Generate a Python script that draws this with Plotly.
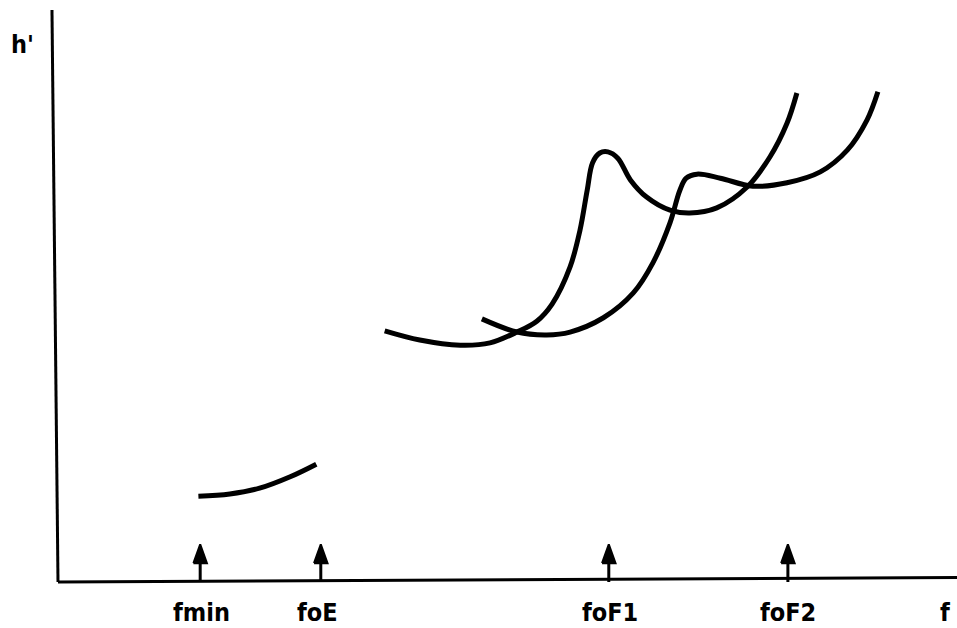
import plotly.graph_objects as go

# E-layer trace (frequency f, virtual height h')
e_f = [15.6, 19.1, 22.4, 25.8, 28.7]
e_h = [15.0, 15.4, 16.4, 18.4, 20.6]

# F-layer ordinary trace
o_f = [36.3, 40.2, 44.7, 48.0, 51.0, 53.2, 54.9, 56.9, 58.0, 58.8, 59.4, 60.2, 61.1,
       62.2, 63.6, 65.4, 68.0, 70.2, 73.2, 76.6, 79.1, 81.0, 82.1]
o_h = [43.9, 42.3, 41.4, 41.8, 43.7, 45.6, 48.6, 55.1, 61.5, 68.5, 73.3, 75.0, 75.2,
       74.1, 70.3, 67.3, 65.0, 64.5, 65.4, 69.1, 74.3, 80.2, 85.5]

# F-layer extraordinary trace
x_f = [47.1, 51.0, 54.3, 56.9, 60.6, 63.9, 66.1, 68.0, 69.1, 69.8, 71.0, 73.6,
       77.2, 81.0, 84.7, 87.7, 89.9, 91.1]
x_h = [46.0, 43.7, 43.2, 43.7, 46.2, 50.5, 55.8, 62.8, 68.5, 70.6, 71.3, 70.6,
       69.2, 69.8, 71.7, 75.5, 80.8, 85.7]

# critical frequency markers
crit_labels = ["fmin", "foE", "foF1", "foF2"]
crit_f = [15.8, 29.2, 61.2, 81.1]
label_f = [16.0, 28.8, 61.3, 81.1]
head_base, head_tip, head_half = 3.3, 6.6, 0.75

fig = go.Figure()
fig.add_trace(go.Scatter(x=e_f, y=e_h, mode="lines", line=dict(color="black", width=5, shape="spline")))
fig.add_trace(go.Scatter(x=o_f, y=o_h, mode="lines", line=dict(color="black", width=5, shape="spline")))
fig.add_trace(go.Scatter(x=x_f, y=x_h, mode="lines", line=dict(color="black", width=5, shape="spline")))

# arrow stems
sx, sy = [], []
for f in crit_f:
    sx += [f, f, None]
    sy += [0, head_base, None]
fig.add_trace(go.Scatter(x=sx, y=sy, mode="lines", line=dict(color="black", width=3)))
# arrow heads
tx, ty = [], []
for f in crit_f:
    tx += [f - head_half, f + head_half, f, f - head_half, None]
    ty += [head_base, head_base, head_tip, head_base, None]
fig.add_trace(go.Scatter(x=tx, y=ty, mode="lines", fill="toself", fillcolor="black",
                         line=dict(color="black", width=2)))

# axes lines
fig.add_shape(type="line", x0=0, y0=0, x1=-0.67, y1=100.0, line=dict(color="black", width=3))
fig.add_shape(type="line", x0=0, y0=0, x1=99.9, y1=0.8, line=dict(color="black", width=3))

font = dict(family="DejaVu Sans Condensed, DejaVu Sans", size=25, color="black", weight="bold")
for lab, f in zip(crit_labels, label_f):
    fig.add_annotation(x=f, y=-5.4, text=lab, showarrow=False, font=font)
fig.add_annotation(x=98.6, y=-5.4, text="f", showarrow=False, font=font)
fig.add_annotation(x=-4.0, y=93.9, text="h'", showarrow=False, font=font)

fig.update_layout(
    width=957, height=628,
    margin=dict(l=0, r=0, t=0, b=0),
    paper_bgcolor="white", plot_bgcolor="white",
    showlegend=False,
    xaxis=dict(range=[-6.444, 99.89], visible=False, fixedrange=True),
    yaxis=dict(range=[-8.04, 101.75], visible=False, fixedrange=True),
)
fig.write_html("out.html", config={"displayModeBar": False},
               post_script="document.body.style.margin='0';document.body.style.overflow='hidden';")
